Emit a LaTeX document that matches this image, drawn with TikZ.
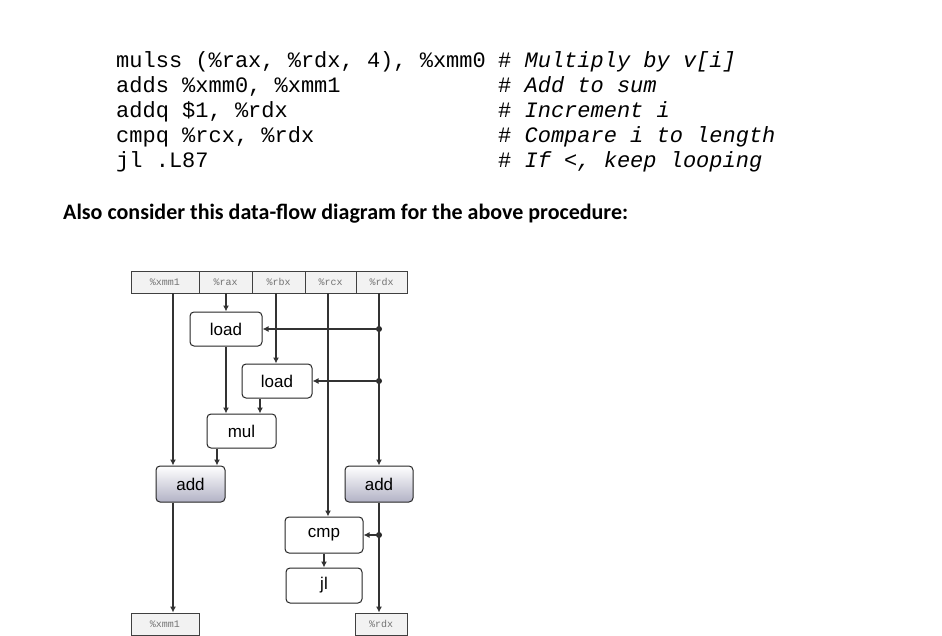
\documentclass[tikz,border=0pt]{standalone}
\usepackage{fontspec}
\setmainfont{Carlito}
\newfontfamily\codefont{Liberation Mono}
\newfontfamily\boxfont{Liberation Sans}
\usetikzlibrary{arrows.meta}
\tikzset{
  reg/.style={draw=black!75, line width=0.8pt, fill=black!5, minimum height=22pt, inner sep=0pt,
    font=\codefont\fontsize{10}{10}\selectfont, text=black!55},
  op/.style={draw=black!85, line width=1pt, rounded corners=4pt, fill=white, minimum height=34pt,
    inner sep=0pt, font=\boxfont\fontsize{17}{17}\selectfont},
  addop/.style={op, top color=white, bottom color=blue!25!black!30},
  flow/.style={draw=black!80, line width=2pt, -{Latex[length=6pt,width=6pt]}},
  dot/.style={circle, fill=black!85, draw=none, inner sep=0pt, minimum size=6pt}
}
\begin{document}
\begin{tikzpicture}[x=1pt, y=-1pt]
  \useasboundingbox (0,0) rectangle (942,636);

  % code
  \begin{scope}[every node/.style={anchor=base west, inner sep=0pt, font=\codefont\fontsize{22}{22}\selectfont}]
    \node at (116,68) {mulss (\%rax, \%rdx, 4), \%xmm0};
    \node at (116,93) {adds \%xmm0, \%xmm1};
    \node at (116,118) {addq \$1, \%rdx};
    \node at (116,143) {cmpq \%rcx, \%rdx};
    \node at (116,168) {jl .L87};
    \node at (498,68) {\# \textit{Multiply by v[i]}};
    \node at (498,93) {\# \textit{Add to sum}};
    \node at (498,118) {\# \textit{Increment i}};
    \node at (498,143) {\# \textit{Compare i to length}};
    \node at (498,168) {\# \textit{If <, keep looping}};
  \end{scope}
  \node[anchor=base west, inner sep=0pt, font=\bfseries\fontsize{22}{22}\selectfont] at (63,220)
    {Also consider this data-flow diagram for the above procedure:};

  % registers
  \node[reg, minimum width=68pt] (xmmin) at (165,282) {\%xmm1};
  \node[reg, minimum width=53pt] (raxin) at (225.5,282) {\%rax};
  \node[reg, minimum width=53pt] (rbxin) at (278.5,282) {\%rbx};
  \node[reg, minimum width=51pt] (rcxin) at (330.5,282) {\%rcx};
  \node[reg, minimum width=51pt] (rdxin) at (381.5,282) {\%rdx};
  \node[reg, minimum width=68pt] (xmmout) at (165,624) {\%xmm1};
  \node[reg, minimum width=52pt] (rdxout) at (381,624) {\%rdx};

  % operations
  \node[op, minimum width=72pt] (load1) at (226,329) {load};
  \node[op, minimum width=70pt] (load2) at (277,381) {load};
  \node[op, minimum width=69pt] (mul) at (241.5,431) {mul};
  \node[addop, minimum width=69pt, minimum height=36pt] (add1) at (190.5,484) {add};
  \node[addop, minimum width=68pt, minimum height=36pt] (add2) at (379,484) {add};
  \node[op, minimum width=78pt, minimum height=36pt] (cmp) at (324,535) {cmp};
  \node[op, minimum width=76pt, minimum height=35pt] (jl) at (324,585.5) {jl};

  % taps on the rdx line
  \node[dot] (tap1) at (379,329) {};
  \node[dot] (tap2) at (379,381) {};
  \node[dot] (tap3) at (379,535) {};

  % flows
  \draw[flow] (xmmin.south -| {(173,0)}) -- (add1.north -| {(173,0)});
  \draw[flow] (raxin.south -| {(226,0)}) -- (load1.north -| {(226,0)});
  \draw[flow] (rbxin.south -| {(276,0)}) -- (load2.north -| {(276,0)});
  \draw[flow] (rcxin.south -| {(328,0)}) -- (cmp.north -| {(328,0)});
  \draw[flow] (rdxin.south -| {(379,0)}) -- (add2.north -| {(379,0)});
  \draw[flow] (tap1.center) -- (load1.east);
  \draw[flow] (tap2.center) -- (load2.east);
  \draw[flow] (load1.south -| {(226,0)}) -- (mul.north -| {(226,0)});
  \draw[flow] (load2.south -| {(260,0)}) -- (mul.north -| {(260,0)});
  \draw[flow] (mul.south -| {(217,0)}) -- (add1.north -| {(217,0)});
  \draw[flow] (add1.south -| {(173,0)}) -- (xmmout.north -| {(173,0)});
  \draw[flow] (add2.south) -- (rdxout.north -| add2.south);
  \draw[flow] (tap3.center) -- (cmp.east);
  \draw[flow] (cmp.south) -- (jl.north);
\end{tikzpicture}
\end{document}
